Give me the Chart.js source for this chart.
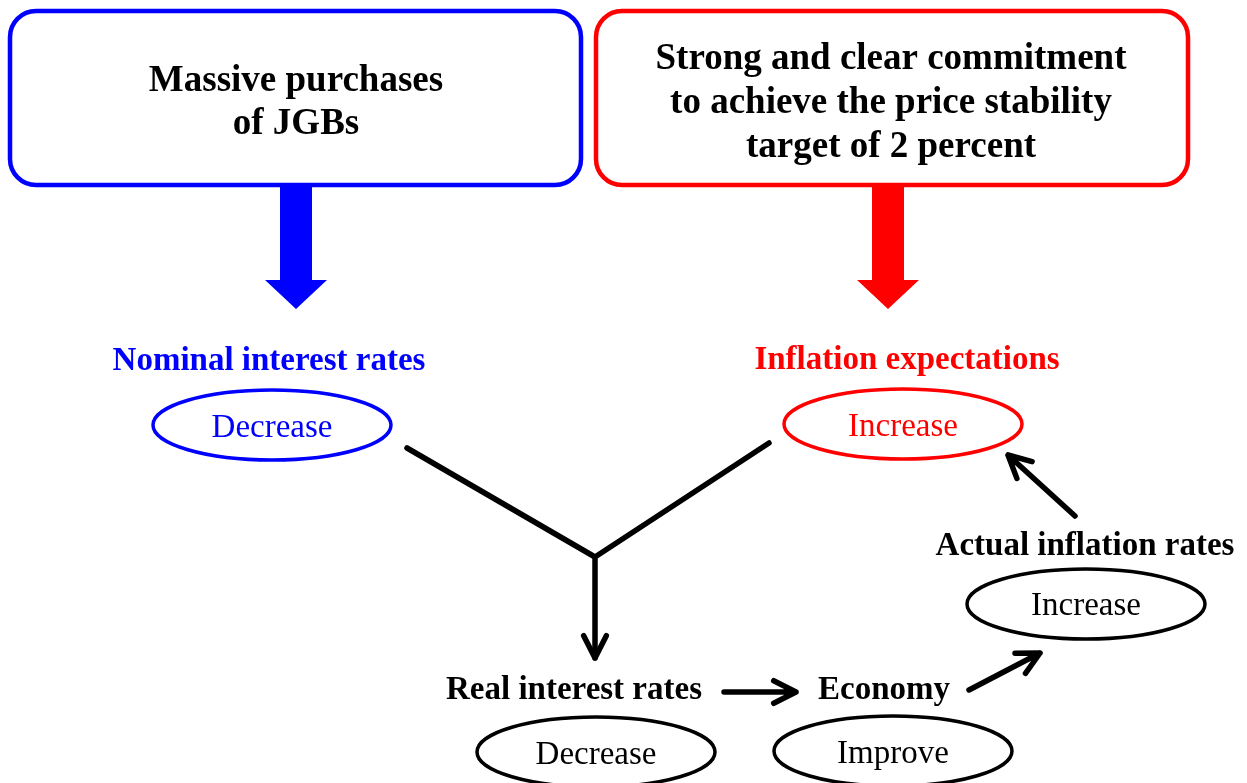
<!DOCTYPE html>
<html>
<head>
<meta charset="utf-8">
<script src="https://cdn.jsdelivr.net/npm/chart.js@4"></script>
<style>
  html, body { margin: 0; padding: 0; background: #fff; }
  #wrap { width: 1247px; height: 783px; }
</style>
</head>
<body>
<div id="wrap"><canvas id="diagram"></canvas></div>
<script>
// Diagram content
const topBoxes = [
  ['Massive purchases', 'of JGBs'],
  ['Strong and clear commitment', 'to achieve the price stability', 'target of 2 percent']
];
const headings = ['Nominal interest rates', 'Inflation expectations', 'Real interest rates', 'Economy', 'Actual inflation rates'];
const states = ['Decrease', 'Increase', 'Decrease', 'Improve', 'Increase'];
const nodeColors = ['#0000ff', '#ff0000', '#000000', '#000000', '#000000'];

// Layout (in scale units, 1 unit = 1 px)
const layout = {
  boxes: [
    { x0: 10, y0: 11, x1: 581, y1: 185, color: '#0000ff', baselines: [91, 134], cx: 296 },
    { x0: 596, y0: 11, x1: 1188, y1: 185, color: '#ff0000', baselines: [69, 113, 157], cx: 891 }
  ],
  nodes: [
    { cx: 272, headX: 269, headY: 370, ey: 425, ty: 437 },
    { cx: 903, headX: 907, headY: 369, ey: 424, ty: 436 },
    { cx: 596, headX: 574, headY: 699, ey: 752, ty: 764 },
    { cx: 893, headX: 884, headY: 699, ey: 751, ty: 763 },
    { cx: 1086, headX: 1085, headY: 555, ey: 604, ty: 615 }
  ],
  bigArrows: [296, 888]
};

const serif = '"Liberation Serif", "Times New Roman", serif';

const diagramPlugin = {
  id: 'diagram',
  afterDraw(chart) {
    const ctx = chart.ctx;
    const sx = chart.scales.x, sy = chart.scales.y;
    const X = v => sx.getPixelForValue(v);
    const Y = v => sy.getPixelForValue(v);
    ctx.save();

    // top boxes
    topBoxes.forEach((lines, i) => {
      const b = layout.boxes[i];
      ctx.beginPath();
      ctx.roundRect(X(b.x0), Y(b.y0), X(b.x1) - X(b.x0), Y(b.y1) - Y(b.y0), 26);
      ctx.lineWidth = 4.5;
      ctx.strokeStyle = b.color;
      ctx.stroke();
      ctx.fillStyle = '#000';
      ctx.font = 'bold 37px ' + serif;
      ctx.textAlign = 'center';
      ctx.textBaseline = 'alphabetic';
      lines.forEach((t, j) => ctx.fillText(t, X(b.cx), Y(b.baselines[j])));
    });

    // big block arrows
    layout.bigArrows.forEach((cx, i) => {
      ctx.fillStyle = layout.boxes[i].color;
      ctx.beginPath();
      ctx.moveTo(X(cx - 16), Y(186));
      ctx.lineTo(X(cx + 16), Y(186));
      ctx.lineTo(X(cx + 16), Y(280));
      ctx.lineTo(X(cx + 31), Y(280));
      ctx.lineTo(X(cx), Y(309));
      ctx.lineTo(X(cx - 31), Y(280));
      ctx.lineTo(X(cx - 16), Y(280));
      ctx.closePath();
      ctx.fill();
    });

    // headings and ellipses
    headings.forEach((h, i) => {
      const n = layout.nodes[i];
      ctx.fillStyle = nodeColors[i];
      ctx.strokeStyle = nodeColors[i];
      ctx.textAlign = 'center';
      ctx.font = 'bold 33px ' + serif;
      ctx.fillText(h, X(n.headX), Y(n.headY));
      ctx.beginPath();
      ctx.ellipse(X(n.cx), Y(n.ey), 119, 35, 0, 0, Math.PI * 2);
      ctx.lineWidth = 3.5;
      ctx.stroke();
      ctx.font = '33px ' + serif;
      ctx.fillText(states[i], X(n.cx), Y(n.ty));
    });

    // connectors
    ctx.strokeStyle = '#000';
    ctx.lineWidth = 5.5;
    ctx.lineCap = 'round';
    ctx.lineJoin = 'round';
    ctx.beginPath();
    ctx.moveTo(X(407), Y(448));
    ctx.lineTo(X(595), Y(557));
    ctx.lineTo(X(769), Y(443));
    ctx.moveTo(X(595), Y(557));
    ctx.lineTo(X(595), Y(658));
    ctx.stroke();

    const arrow = (x0, y0, x1, y1, drawShaft) => {
      const a = Math.atan2(Y(y1) - Y(y0), X(x1) - X(x0));
      const len = 25, spread = 0.47;
      ctx.beginPath();
      if (drawShaft) {
        ctx.moveTo(X(x0), Y(y0));
        ctx.lineTo(X(x1), Y(y1));
      }
      ctx.moveTo(X(x1) - len * Math.cos(a - spread), Y(y1) - len * Math.sin(a - spread));
      ctx.lineTo(X(x1), Y(y1));
      ctx.lineTo(X(x1) - len * Math.cos(a + spread), Y(y1) - len * Math.sin(a + spread));
      ctx.stroke();
    };
    arrow(595, 557, 595, 658, false);
    arrow(724, 692, 796, 692, true);
    arrow(969, 690, 1040, 653, true);
    arrow(1075, 516, 1008, 455, true);

    ctx.restore();
  }
};

new Chart(document.getElementById('diagram'), {
  type: 'scatter',
  data: { datasets: [{ data: [], pointRadius: 0 }] },
  options: {
    responsive: true,
    maintainAspectRatio: false,
    animation: false,
    layout: { padding: 0 },
    plugins: { legend: { display: false }, tooltip: { enabled: false } },
    scales: {
      x: { type: 'linear', min: 0, max: 1247, display: false },
      y: { type: 'linear', min: 0, max: 783, reverse: true, display: false }
    }
  },
  plugins: [diagramPlugin]
});
</script>
</body>
</html>
